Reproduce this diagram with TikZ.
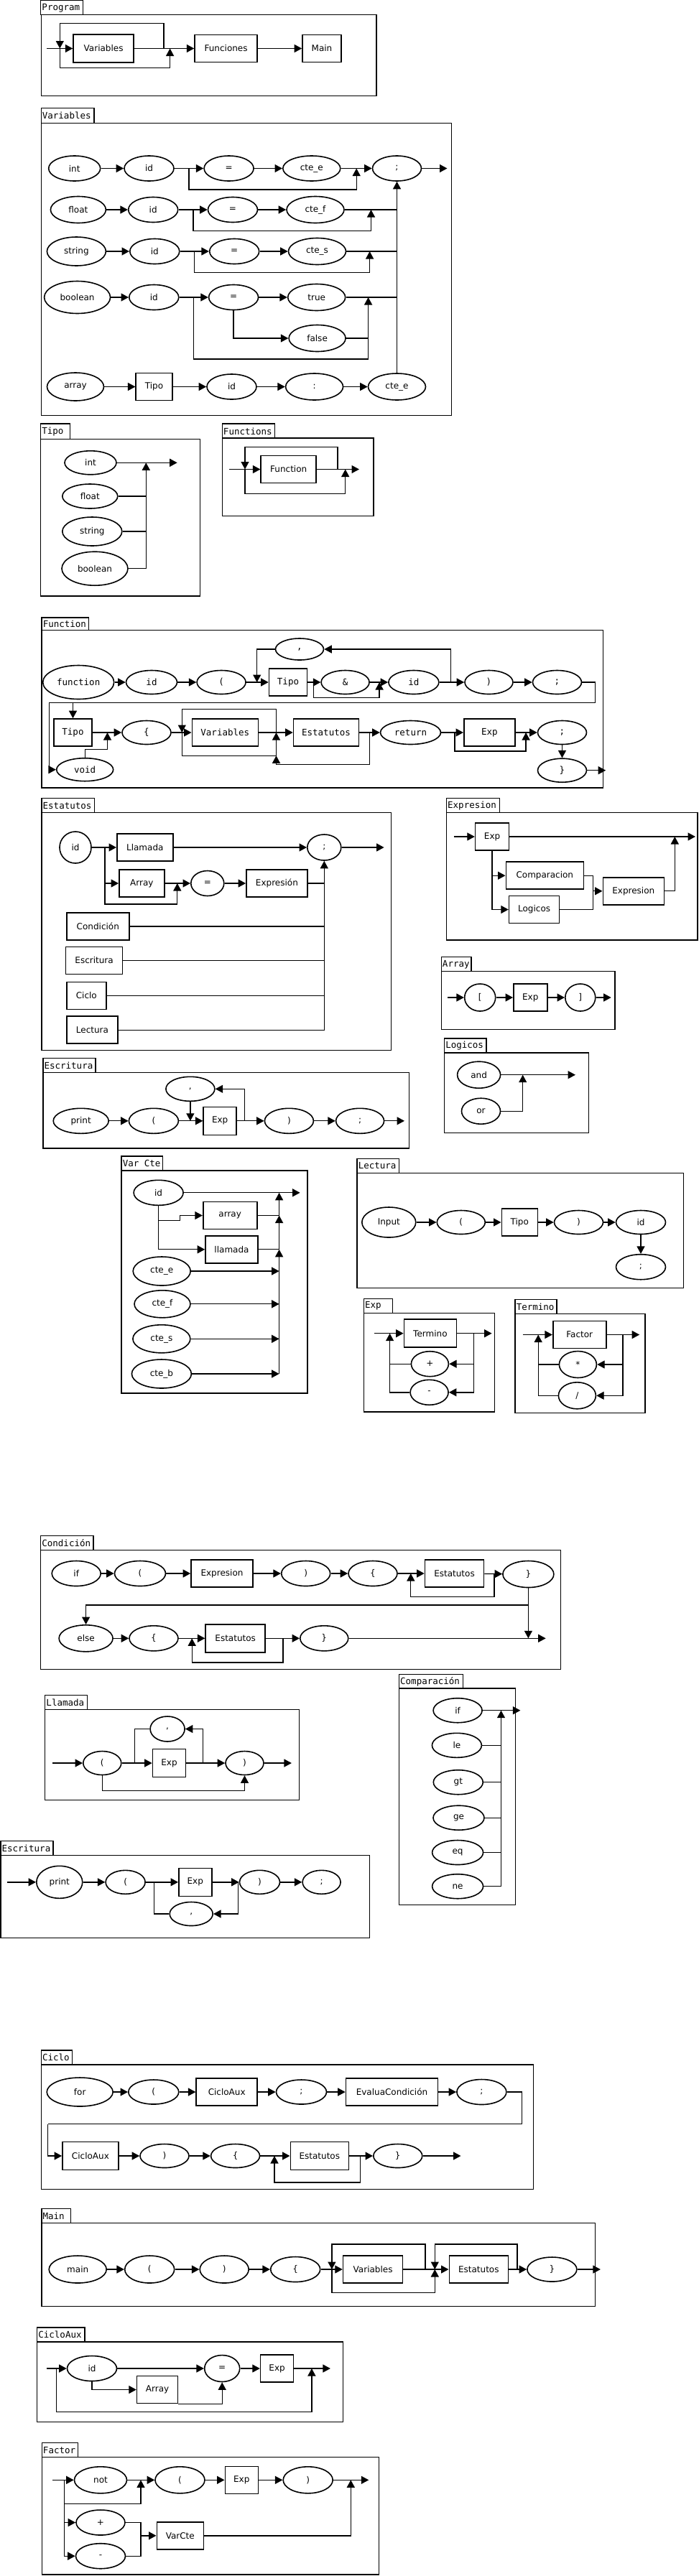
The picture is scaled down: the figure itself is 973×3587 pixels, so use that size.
\documentclass[tikz,border=0pt]{standalone}
\usepackage{fontspec}
\setmainfont{DejaVu Sans}
\setmonofont{DejaVu Sans Mono}
\usetikzlibrary{shapes.geometric,arrows.meta}
\tikzset{
  el/.style 2 args={draw,ellipse,line width=1.6pt,minimum width=#1pt,minimum height=#2pt,inner sep=0pt,font=\fontsize{12}{14}\selectfont},
  bx/.style 2 args={draw,rectangle,line width=1.6pt,minimum width=#1pt,minimum height=#2pt,inner sep=0pt,font=\fontsize{12}{14}\selectfont},
  mono/.style={font=\ttfamily\fontsize{12.5}{14}\selectfont},
  arr/.style={-{Triangle[length=10.5pt,width=11pt]}},
  tabtxt/.style={anchor=west,inner sep=1pt,font=\ttfamily\fontsize{12.5}{14}\selectfont}
}
\begin{document}
\begin{tikzpicture}[x=1pt,y=-1pt,line width=1.35pt]
\useasboundingbox (0,0) rectangle (973,3587);
\fill[white] (0,0) rectangle (973,3587);

% ================= Program
\draw (56.8,0.7) rectangle (115.4,20.7); \node[tabtxt] (tProgram) at (56.8,11) {Program};
\draw (57.5,20.7) rectangle (524.1,133.3);
\node[bx={84}{39}] (pVar) at (144.1,67.5) {Variables};
\node[bx={87}{38}] (pFun) at (314.6,67.5) {Funciones};
\node[bx={54}{38}] (pMain) at (448,67.5) {Main};
\coordinate (pIn) at (65.4,67.5);
\draw[arr] (pIn) -- (pVar);
\draw[arr] (pVar) -- (pFun);
\draw[arr] (pFun) -- (pMain);
\draw[arr] (228,67.5) |- (83.3,32.3) -- (83.3,67.5);
\draw[arr] (83.3,67.5) |- (236.6,94.3) -- (236.6,67.5);

% ================= Variables
\draw (57.2,150.7) rectangle (131.1,171.7); \node[tabtxt] (tVariables) at (57.2,161) {Variables};
\draw (57.2,171.7) rectangle (628.2,578.3);
\node[el={72}{35}] (vInt) at (103.7,234.5) {int};
\node[el={69}{35}] (vId1) at (207.5,234.5) {id};
\node[el={69}{35}] (vEq1) at (318.6,234.5) {=};
\node[el={80}{35}] (vCe1) at (433.8,234.5) {cte\_e};
\node[el={68}{35}] (vSemi) at (552.5,234.5) {;};
\coordinate (vOut) at (622.5,234.5);
\draw[arr] (vInt) -- (vId1); \draw[arr] (vId1) -- (vEq1); \draw[arr] (vEq1) -- (vCe1);
\draw[arr] (vCe1) -- (vSemi); \draw[arr] (vSemi) -- (vOut);
\draw[arr] (263.1,234.5) |- (496.2,264) -- (496.2,234.5);
% row 2
\node[el={77}{37}] (vFloat) at (108.9,292) {float};
\node[el={69}{35}] (vId2) at (213.2,292) {id};
\node[el={69}{35}] (vEq2) at (324,292) {=};
\node[el={80}{37}] (vCf) at (439,292) {cte\_f};
\draw[arr] (vFloat) -- (vId2); \draw[arr] (vId2) -- (vEq2); \draw[arr] (vEq2) -- (vCf);
\draw (vCf) -- (552.5,292);
\draw[arr] (268.9,292) |- (516.5,321.7) -- (516.5,292);
% row 3
\node[el={82}{40}] (vStr) at (106.4,350) {string};
\node[el={69}{35}] (vId3) at (215.3,350) {id};
\node[el={69}{35}] (vEq3) at (326.2,350) {=};
\node[el={80}{37}] (vCs) at (441.5,350) {cte\_s};
\draw[arr] (vStr) -- (vId3); \draw[arr] (vId3) -- (vEq3); \draw[arr] (vEq3) -- (vCs);
\draw (vCs) -- (552.5,350);
\draw[arr] (270.8,350) |- (514.6,379.3) -- (514.6,350);
% row 4
\node[el={92}{45}] (vBool) at (107.6,414) {boolean};
\node[el={69}{35}] (vId4) at (214.3,414) {id};
\node[el={69}{35}] (vEq4) at (325.1,414) {=};
\node[el={80}{37}] (vTrue) at (440.7,414) {true};
\node[el={79}{37}] (vFalse) at (441.6,471) {false};
\draw[arr] (vBool) -- (vId4); \draw[arr] (vId4) -- (vEq4); \draw[arr] (vEq4) -- (vTrue);
\draw[arr] (vEq4.south) |- (vFalse);
\draw (vFalse) -- (512.6,471);
\draw (269.6,414) |- (512.6,500);
\draw[arr] (512.6,500) -- (512.6,414);
\draw (vTrue) -- (552.5,414);
% row 5
\node[el={79}{39}] (vArr) at (105,538.5) {array};
\node[bx={50.5}{38}] (vTipo) at (214.5,538.5) {Tipo};
\node[el={69}{35}] (vId5) at (322.5,538.5) {id};
\node[el={80}{37}] (vColon) at (437.6,538.5) {:};
\node[el={80}{37}] (vCe5) at (552.5,538.5) {cte\_e};
\draw[arr] (vArr) -- (vTipo); \draw[arr] (vTipo) -- (vId5); \draw[arr] (vId5) -- (vColon);
\draw[arr] (vColon) -- (vCe5);
\draw[arr] (vCe5.north) -- (vSemi.south);

% ================= Tipo
\draw (56.7,590) rectangle (97.3,611.7); \node[tabtxt] (tTipo) at (56.7,601) {Tipo};
\draw (56.7,611.7) rectangle (278.3,830);
\node[el={72}{33}] (tInt) at (126,644.3) {int};
\node[el={77}{34}] (tFloat) at (125.3,691) {float};
\node[el={83}{40}] (tStr) at (128.3,740) {string};
\node[el={92}{47}] (tBool) at (132,791.7) {boolean};
\coordinate (tOut) at (246.7,644.3);
\draw[arr] (tInt) -- (tOut);
\draw[arr] (tBool.east) -| (203.3,644.3);
\draw (tFloat) -- (203.3,691);
\draw (tStr) -- (203.3,740);

% ================= Functions
\draw (309.3,590) rectangle (382.7,610); \node[tabtxt] (tFunctions) at (309.3,600.5) {Functions};
\draw (309.3,610) rectangle (520,718.3);
\node[bx={77}{38}] (fsFun) at (401.7,653.5) {Function};
\coordinate (fsIn) at (319.3,653.5);
\coordinate (fsOut) at (500,653.5);
\draw[arr] (fsIn) -- (fsFun);
\draw[arr] (fsFun) -- (fsOut);
\draw[arr] (470,653.5) |- (341,622.3) -- (341,653.5);
\draw[arr] (341,653.5) |- (480.7,687.3) -- (480.7,653.5);

% ================= Function
\draw (58.1,860) rectangle (123.7,877.3); \node[tabtxt] (tFunction) at (58.1,869) {Function};
\draw (58.1,877.3) rectangle (839.6,1097);
\node[el={99}{47},mono] (fKw) at (109.2,950) {function};
\node[el={71}{33},mono] (fId) at (211,950) {id};
\node[el={68}{33},mono] (fOpen) at (308.1,950) {(};
\node[bx={53}{38},mono] (fTipo) at (401,950) {Tipo};
\node[el={67}{33},mono] (fAmp) at (480.6,950) {\&};
\node[el={70}{33},mono] (fId2) at (575.9,950) {id};
\node[el={67}{33},mono] (fClose) at (680.5,950) {)};
\node[el={68}{33},mono] (fSemi1) at (775.5,950) {;};
\node[el={67}{30},mono] (fComma) at (417,904) {,};
\node[bx={53}{38},mono] (fTipo2) at (101.5,1020) {Tipo};
\node[el={79}{32},mono] (fVoid) at (118.2,1071.7) {void};
\node[el={68}{33},mono] (fLb) at (204,1020) {\{};
\node[bx={92}{38},mono] (fVar) at (313.3,1020) {Variables};
\node[bx={91}{38},mono] (fEst) at (454,1020) {Estatutos};
\node[el={84}{33},mono] (fRet) at (571.5,1020) {return};
\node[bx={71}{38},mono] (fExp) at (681.3,1020) {Exp};
\node[el={68}{33},mono] (fSemi2) at (782.5,1020) {;};
\node[el={68}{33},mono] (fRb) at (782.5,1072.7) {\}};
\coordinate (fOut) at (843.2,1072.7);
\draw[arr] (fKw) -- (fId); \draw[arr] (fId) -- (fOpen); \draw[arr] (fOpen) -- (fTipo);
\draw[arr] (fTipo) -- (fAmp); \draw[arr] (fAmp) -- (fId2); \draw[arr] (fId2) -- (fClose);
\draw[arr] (fClose) -- (fSemi1);
\draw[arr] (627.8,950) |- (fComma.east);
\draw[arr] (fComma.west) -| (357.7,950);
\draw[arr] (436.7,950) |- (528.1,971.7) -- (528.1,950);
\draw (fSemi1.east) -| (828.7,978.3) -- (68.4,978.3);
\draw[arr] (68.4,978.3) |- (fVoid.west);
\draw[arr] (101.5,978.3) -- (fTipo2.north);
\draw[arr] (fTipo2) -- (fLb);
\draw[arr] (fVoid.north) |- (149.5,1043.3) -- (149.5,1020);
\draw[arr] (fLb) -- (fVar); \draw[arr] (fVar) -- (fEst); \draw[arr] (fEst) -- (fRet);
\draw[arr] (fRet) -- (fExp); \draw[arr] (fExp) -- (fSemi2); \draw[arr] (fSemi2) -- (fRb);
\draw[arr] (fRb) -- (fOut);
\draw[arr] (384.5,1020) |- (253.3,987.3) -- (253.3,1020);
\draw[arr] (253.3,1020) |- (384.5,1052.3) -- (384.5,1020);
\draw[arr] (514.2,1020) |- (384.5,1064.3) -- (384.5,1052.3);
\draw[arr] (633,1020) |- (732.1,1046) -- (732.1,1020);

% ================= Estatutos
\draw (58,1111.7) rectangle (131.7,1131.7); \node[tabtxt] (tEstatutos) at (58,1122) {Estatutos};
\draw (58,1131.7) rectangle (544.8,1462.7);
\node[el={44}{44}] (sId) at (105,1180) {id};
\node[bx={78}{38}] (sLlam) at (201.8,1180) {Llamada};
\node[el={47}{36}] (sSemi) at (451.3,1180) {;};
\coordinate (sOut) at (534.6,1180);
\node[bx={63}{38}] (sArr) at (197.4,1230) {Array};
\node[el={46}{35}] (sEq) at (288.8,1230) {=};
\node[bx={85}{38}] (sExpr) at (385.4,1230) {Expresión};
\node[bx={87}{38}] (sCond) at (136.3,1290) {Condición};
\node[bx={79}{38}] (sEsc) at (131.1,1337.5) {Escritura};
\node[bx={55}{38}] (sCic) at (120.3,1386.5) {Ciclo};
\node[bx={71}{38}] (sLec) at (128.5,1434.2) {Lectura};
\draw[arr] (sId) -- (sLlam); \draw[arr] (sLlam) -- (sSemi); \draw[arr] (sSemi) -- (sOut);
\draw[arr] (146.1,1180) |- (sArr.west);
\draw[arr] (146.1,1230) |- (246.8,1259) -- (246.8,1230);
\draw[arr] (sArr) -- (sEq); \draw[arr] (sEq) -- (sExpr);
\draw (sExpr) -- (451.3,1230);
\draw (sCond) -- (451.3,1290);
\draw (sEsc) -- (451.3,1337.5);
\draw (sCic) -- (451.3,1386.5);
\draw[arr] (sLec.east) -| (sSemi.south);

% ================= Expresion
\draw (621.5,1111.7) rectangle (695.3,1131.7); \node[tabtxt] (tExpresion) at (621.5,1122) {Expresion};
\draw (621.5,1131.7) rectangle (971,1309);
\node[bx={47}{38}] (eExp) at (685.1,1165) {Exp};
\node[bx={108}{38}] (eComp) at (758.3,1219.2) {Comparacion};
\node[bx={70}{38}] (eLog) at (743.6,1266.5) {Logicos};
\node[bx={85}{38}] (eExpr) at (881.8,1240.8) {Expresion};
\coordinate (eIn) at (631.7,1165);
\coordinate (eOut) at (968,1165);
\draw[arr] (eIn) -- (eExp);
\draw[arr] (eExp) -- (eOut);
\draw[arr] (eExp.south) |- (eComp.west);
\draw[arr] (685.1,1219.2) |- (eLog.west);
\draw[arr] (eComp.east) -| (825.4,1240.8) -- (eExpr.west);
\draw (eLog.east) -| (825.4,1240.8);
\draw[arr] (eExpr.east) -| (939.3,1165);

% ================= Array
\draw (614.3,1332.7) rectangle (656.1,1352.7); \node[tabtxt] (tArray) at (614.3,1343) {Array};
\draw (614.3,1352.7) rectangle (856,1433.3);
\node[el={43}{38}] (aOpen) at (668.2,1389) {[};
\node[bx={47}{38}] (aExp) at (738.3,1389) {Exp};
\node[el={42}{38}] (aClose) at (807.8,1389) {]};
\coordinate (aIn) at (623.2,1389);
\coordinate (aOut) at (850.7,1389);
\draw[arr] (aIn) -- (aOpen); \draw[arr] (aOpen) -- (aExp); \draw[arr] (aExp) -- (aClose);
\draw[arr] (aClose) -- (aOut);

% ================= Logicos
\draw (618.6,1446) rectangle (677,1466); \node[tabtxt] (tLogicos) at (618.6,1456) {Logicos};
\draw (618.6,1466) rectangle (819.3,1577.3);
\node[el={60}{37}] (lAnd) at (666.6,1496.7) {and};
\node[el={54}{36}] (lOr) at (669.5,1547.2) {or};
\coordinate (lOut) at (801,1496.7);
\draw[arr] (lAnd) -- (lOut);
\draw[arr] (lOr.east) -| (727.7,1496.7);

% ================= Escritura
\draw (59.9,1473.3) rectangle (133.1,1493.3); \node[tabtxt] (tEscritura) at (59.9,1483.5) {Escritura};
\draw (59.9,1493.3) rectangle (569.3,1599);
\node[el={77}{35}] (wPrint) at (112.7,1560.8) {print};
\node[el={69}{35}] (wOpen) at (213.9,1560.8) {(};
\node[bx={46}{39}] (wExp) at (306.2,1560.8) {Exp};
\node[el={68}{35}] (wClose) at (402.4,1560.8) {)};
\node[el={67}{35}] (wSemi) at (501.1,1560.8) {;};
\node[el={68}{34}] (wComma) at (264.9,1516.3) {,};
\coordinate (wOut) at (563,1560.8);
\draw[arr] (wPrint) -- (wOpen); \draw[arr] (wOpen) -- (wExp); \draw[arr] (wExp) -- (wClose);
\draw[arr] (wClose) -- (wSemi); \draw[arr] (wSemi) -- (wOut);
\draw[arr] (340.7,1560.8) |- (wComma.east);
\draw[arr] (wComma.south) -- (264.9,1560.8);

% ================= Var Cte
\draw (169.1,1610) rectangle (226.4,1630); \node[tabtxt] (tVarCte) at (169.1,1620) {Var Cte};
\draw (169.1,1630) rectangle (427.9,1940);
\node[el={69}{35}] (cId) at (220.6,1660.8) {id};
\node[bx={75}{38}] (cArr) at (320.2,1692.5) {array};
\node[bx={73}{38}] (cLlam) at (322.5,1739.8) {llamada};
\node[el={80}{40}] (cE) at (225.2,1770) {cte\_e};
\node[el={78}{38}] (cF) at (226,1815.8) {cte\_f};
\node[el={80}{39}] (cS) at (224.9,1864.3) {cte\_s};
\node[el={83}{40}] (cB) at (224.9,1913) {cte\_b};
\coordinate (cOut) at (417.6,1660.8);
\draw[arr] (cId) -- (cOut);
\draw[arr] (cId.south) |- (cLlam.west);
\draw[arr] (220.6,1699.3) -| (250.7,1692.5) -- (cArr.west);
\draw (cArr) -- (388.6,1692.5);
\draw (cLlam) -- (388.6,1739.8);
\draw[arr] (388.6,1913) -- (388.6,1739.8);
\draw[arr] (388.6,1739.8) -- (388.6,1692.5);
\draw[arr] (388.6,1692.5) -- (388.6,1660.8);
\draw[arr] (cE) -- (388.6,1770);
\draw[arr] (cF) -- (388.6,1815.8);
\draw[arr] (cS) -- (388.6,1864.3);
\draw[arr] (cB) -- (388.6,1913);

% ================= Lectura
\draw (497.1,1613.3) rectangle (555.5,1633.3); \node[tabtxt] (tLectura) at (497.1,1623.5) {Lectura};
\draw (497.1,1633.3) rectangle (951.7,1793.3);
\node[el={75}{42}] (rIn) at (541.3,1702) {Input};
\node[el={67}{33}] (rOpen) at (641.8,1702) {(};
\node[bx={50}{38}] (rTipo) at (723.3,1702) {Tipo};
\node[el={68}{33}] (rClose) at (805.5,1702) {)};
\node[el={69}{33}] (rId) at (892,1702) {id};
\node[el={69}{35}] (rSemi) at (892,1764.2) {;};
\draw[arr] (rIn) -- (rOpen); \draw[arr] (rOpen) -- (rTipo); \draw[arr] (rTipo) -- (rClose);
\draw[arr] (rClose) -- (rId); \draw[arr] (rId) -- (rSemi);

% ================= Exp
\draw (506.4,1808.3) rectangle (546.7,1828.3); \node[tabtxt] (tExp) at (506.4,1818.5) {Exp};
\draw (506.4,1828.3) rectangle (688.2,1966);
\node[bx={73}{39}] (xTerm) at (598.9,1856.7) {Termino};
\node[el={52}{35}] (xPlus) at (598.4,1899.2) {+};
\node[el={53}{35}] (xMinus) at (597.6,1938.8) {-};
\coordinate (xIn) at (520.9,1856.7);
\coordinate (xOut) at (684.6,1856.7);
\draw[arr] (xIn) -- (xTerm);
\draw[arr] (xTerm) -- (xOut);
\draw[arr] (659.8,1856.7) |- (xMinus.east);
\draw[arr] (659.8,1899.2) -- (xPlus.east);
\draw[arr] (xMinus.west) -| (542.6,1856.7);
\draw (xPlus.west) -- (542.6,1899.2);

% ================= Termino
\draw (717.1,1809.3) rectangle (775,1829.3); \node[tabtxt] (tTermino) at (717.1,1819.5) {Termino};
\draw (717.1,1829.3) rectangle (897.9,1967.7);
\node[bx={74}{38}] (mFac) at (806.7,1858.5) {Factor};
\node[el={52}{37}] (mMul) at (804.4,1900) {*};
\node[el={52}{37}] (mDiv) at (803.4,1943.3) {/};
\coordinate (mIn) at (727.5,1858.5);
\coordinate (mOut) at (890.2,1858.5);
\draw[arr] (mIn) -- (mFac);
\draw[arr] (mFac) -- (mOut);
\draw[arr] (866.9,1858.5) |- (mDiv.east);
\draw[arr] (866.9,1900) -- (mMul.east);
\draw[arr] (mDiv.west) -| (749.2,1858.5);
\draw (mMul.west) -- (749.2,1900);

% ================= Condición
\draw (56.7,2138.3) rectangle (129.9,2158.3); \node[tabtxt] (tCond) at (56.7,2148.5) {Condición};
\draw (56.7,2158.3) rectangle (780.3,2324.3);
\node[el={68}{35}] (kIf) at (106.2,2191) {if};
\node[el={71}{35}] (kOpen) at (195,2191) {(};
\node[bx={86}{38}] (kExpr) at (309,2191) {Expresion};
\node[el={68}{35}] (kClose) at (425.7,2191) {)};
\node[el={68}{35}] (kLb1) at (519,2191) {\{};
\node[bx={82}{38}] (kEst1) at (632.5,2191) {Estatutos};
\node[el={71}{37}] (kRb1) at (735.4,2192) {\}};
\node[el={75}{37}] (kElse) at (119.6,2281.3) {else};
\node[el={68}{35}] (kLb2) at (214,2281.3) {\{};
\node[bx={83}{39}] (kEst2) at (327.7,2281.3) {Estatutos};
\node[el={67}{35}] (kRb2) at (451.3,2281.3) {\}};
\coordinate (kOut) at (759.7,2281.3);
\draw[arr] (kIf) -- (kOpen); \draw[arr] (kOpen) -- (kExpr); \draw[arr] (kExpr) -- (kClose);
\draw[arr] (kClose) -- (kLb1); \draw[arr] (kLb1) -- (kEst1); \draw[arr] (kEst1) -- (kRb1);
\draw[arr] (688,2191) |- (571.8,2223.3) -- (571.8,2191);
\draw[arr] (kRb1.south) -- (735.4,2281.3);
\draw[arr] (735.4,2235) -| (kElse.north);
\draw[arr] (kElse) -- (kLb2); \draw[arr] (kLb2) -- (kEst2); \draw[arr] (kEst2) -- (kRb2);
\draw[arr] (kRb2) -- (kOut);
\draw[arr] (393.9,2281.3) |- (267.2,2315) -- (267.2,2281.3);

% ================= Llamada
\draw (62.8,2360.7) rectangle (121.3,2380.7); \node[tabtxt] (tLlamada) at (62.8,2371) {Llamada};
\draw (62.8,2380.7) rectangle (416.7,2506.7);
\node[el={53}{33}] (lOpen) at (142.3,2455) {(};
\node[bx={46}{39}] (lExp) at (235.5,2455) {Exp};
\node[el={48}{35}] (lComma) at (233.1,2407.5) {,};
\node[el={53}{33}] (lClose) at (340.5,2455) {)};
\coordinate (lIn) at (73.1,2455);
\coordinate (lOutp) at (405.9,2455);
\draw[arr] (lIn) -- (lOpen); \draw[arr] (lOpen) -- (lExp); \draw[arr] (lExp) -- (lClose);
\draw[arr] (lClose) -- (lOutp);
\draw[arr] (282.2,2455) |- (lComma.east);
\draw (lComma.west) -| (187.8,2455);
\draw[arr] (lOpen.south) |- (340.5,2493.3) -- (lClose.south);

% ================= Comparación
\draw (555.5,2331.7) rectangle (644.2,2351); \node[tabtxt] (tComp) at (555.5,2341.5) {Comparación};
\draw (555.5,2351) rectangle (717.3,2652.3);
\node[el={68}{34}] (qIf) at (637.1,2381.7) {if};
\node[el={69}{34}] (qLe) at (635.9,2430.3) {le};
\node[el={69}{34}] (qGt) at (637.8,2481.7) {gt};
\node[el={71}{34}] (qGe) at (638.5,2531.2) {ge};
\node[el={71}{34}] (qEq) at (637.1,2579.5) {eq};
\node[el={71}{34}] (qNe) at (637.1,2626.7) {ne};
\coordinate (qOut) at (724.4,2381.7);
\draw[arr] (qIf) -- (qOut);
\draw[arr] (qNe.east) -| (697.5,2381.7);
\draw (qLe) -- (697.5,2430.3);
\draw (qGt) -- (697.5,2481.7);
\draw (qGe) -- (697.5,2531.2);
\draw (qEq) -- (697.5,2579.5);

% ================= Escritura (2)
\draw (0.9,2563.3) rectangle (74.1,2583.3); \node[tabtxt] (tEscritura2) at (0.9,2573.5) {Escritura};
\draw (0.9,2583.3) rectangle (514.4,2698.3);
\node[el={64}{45}] (oPrint) at (82.8,2620.8) {print};
\node[el={55}{33}] (oOpen) at (174.6,2620.8) {(};
\node[bx={46}{39}] (oExp) at (271.8,2620.8) {Exp};
\node[el={56}{33}] (oClose) at (361.5,2620.8) {)};
\node[el={53}{33}] (oSemi) at (447.6,2620.8) {;};
\node[el={60}{33}] (oComma) at (266.2,2665) {,};
\coordinate (oIn) at (10.4,2620.8);
\draw[arr] (oIn) -- (oPrint); \draw[arr] (oPrint) -- (oOpen); \draw[arr] (oOpen) -- (oExp);
\draw[arr] (oExp) -- (oClose); \draw[arr] (oClose) -- (oSemi);
\draw (214.7,2620.8) |- (oComma.west);
\draw[arr] (331.8,2620.8) |- (oComma.east);

% ================= Ciclo
\draw (57.4,2855) rectangle (100.6,2875); \node[tabtxt] (tCiclo) at (57.4,2865) {Ciclo};
\draw (57.4,2875) rectangle (742.5,3048.3);
\node[el={92}{40}] (kFor) at (111.2,2913) {for};
\node[el={70}{34}] (kcOpen) at (213.8,2913) {(};
\node[bx={85}{38}] (kAux1) at (315.7,2913) {CicloAux};
\node[el={70}{34}] (kSemi1) at (419.5,2913) {;};
\node[bx={128}{38}] (kEval) at (545.5,2913) {EvaluaCondición};
\node[el={69}{35}] (kSemi2) at (670.4,2913) {;};
\node[bx={78}{39}] (kAux2) at (125.9,3002) {CicloAux};
\node[el={68}{33}] (kcClose) at (229,3002) {)};
\node[el={68}{33}] (kcLb) at (327.6,3002) {\{};
\node[bx={81}{39}] (kcEst) at (444.8,3002) {Estatutos};
\node[el={68}{33}] (kcRb) at (553.8,3002) {\}};
\coordinate (kcOut) at (641.5,3002);
\draw[arr] (kFor) -- (kcOpen); \draw[arr] (kcOpen) -- (kAux1); \draw[arr] (kAux1) -- (kSemi1);
\draw[arr] (kSemi1) -- (kEval); \draw[arr] (kEval) -- (kSemi2);
\draw (kSemi2.east) -| (726.4,2957.7) -- (66.6,2957.7);
\draw[arr] (66.6,2957.7) |- (kAux2.west);
\draw[arr] (kAux2) -- (kcClose); \draw[arr] (kcClose) -- (kcLb); \draw[arr] (kcLb) -- (kcEst);
\draw[arr] (kcEst) -- (kcRb); \draw[arr] (kcRb) -- (kcOut);
\draw[arr] (501.4,3002) |- (382,3039) -- (382,3002);

% ================= Main
\draw (57.9,3075.7) rectangle (98.7,3095.7); \node[tabtxt] (tMain) at (57.9,3086) {Main};
\draw (57.9,3095.7) rectangle (828.3,3211.7);
\node[el={80}{38}] (nMain) at (108.2,3160) {main};
\node[el={69}{38}] (nOpen) at (208.2,3160) {(};
\node[el={68}{38}] (nClose) at (312.2,3160) {)};
\node[el={69}{35}] (nLb) at (411.2,3160) {\{};
\node[bx={83}{38}] (nVar) at (519.1,3160) {Variables};
\node[bx={82}{38}] (nEst) at (666.3,3160) {Estatutos};
\node[el={69}{34}] (nRb) at (768.4,3160) {\}};
\coordinate (nOut) at (835.9,3160);
\draw[arr] (nMain) -- (nOpen); \draw[arr] (nOpen) -- (nClose); \draw[arr] (nClose) -- (nLb);
\draw[arr] (nLb) -- (nVar); \draw[arr] (nVar) -- (nEst); \draw[arr] (nEst) -- (nRb);
\draw[arr] (nRb) -- (nOut);
\draw[arr] (592,3160) |- (461.9,3125) -- (461.9,3160);
\draw[arr] (461.9,3160) |- (605.3,3192.7) -- (605.3,3160);
\draw[arr] (720.1,3160) |- (605.3,3125) -- (605.3,3160);

% ================= CicloAux
\draw (51.7,3241) rectangle (118.1,3261); \node[tabtxt] (tCicloAux) at (51.7,3251) {CicloAux};
\draw (51.7,3261) rectangle (477.2,3372.7);
\node[el={69}{35}] (uId) at (128,3298) {id};
\node[el={49}{37}] (uEq) at (309.2,3298) {=};
\node[bx={46}{38}] (uExp) at (385.6,3298) {Exp};
\node[bx={57}{38}] (uArr) at (219.1,3327.5) {Array};
\coordinate (uIn) at (64.5,3298);
\coordinate (uOut) at (459.9,3298);
\draw[arr] (uIn) -- (uId); \draw[arr] (uId) -- (uEq); \draw[arr] (uEq) -- (uExp);
\draw[arr] (uExp) -- (uOut);
\draw[arr] (uId.south) |- (uArr.west);
\draw[arr] (uArr.south east) -| (uEq.south);
\draw[arr] (78.3,3298) |- (433.9,3358.3) -- (433.9,3298);

% ================= Factor
\draw (58.3,3401.7) rectangle (108.3,3421.7); \node[tabtxt] (tFactor) at (58.3,3412) {Factor};
\draw (58.3,3421.7) rectangle (527.3,3585);
\node[el={73}{37}] (gNot) at (140,3453.3) {not};
\node[el={69}{37}] (gOpen) at (250.5,3453.3) {(};
\node[bx={46}{38}] (gExp) at (336.3,3453.3) {Exp};
\node[el={69}{37}] (gClose) at (428.7,3453.3) {)};
\node[el={68}{35}] (gPlus) at (140,3512.5) {+};
\node[el={69}{35}] (gMinus) at (140,3559.2) {-};
\node[bx={65}{38}] (gVar) at (250.8,3530.8) {VarCte};
\coordinate (gIn) at (73.3,3453.3);
\coordinate (gOut) at (513.3,3453.3);
\draw[arr] (gIn) -- (gNot); \draw[arr] (gNot) -- (gOpen); \draw[arr] (gOpen) -- (gExp);
\draw[arr] (gExp) -- (gClose); \draw[arr] (gClose) -- (gOut);
\draw[arr] (89.3,3453.3) |- (196,3486.7) -- (196,3453.3);
\draw[arr] (89.3,3486.7) |- (gPlus.west);
\draw[arr] (89.3,3512.5) |- (gMinus.west);
\draw (gPlus.east) -| (196,3559.2) -- (gMinus.east);
\draw[arr] (196,3530.8) -- (gVar.west);
\draw[arr] (gVar.east) -| (488.3,3453.3);
\end{tikzpicture}
\end{document}
